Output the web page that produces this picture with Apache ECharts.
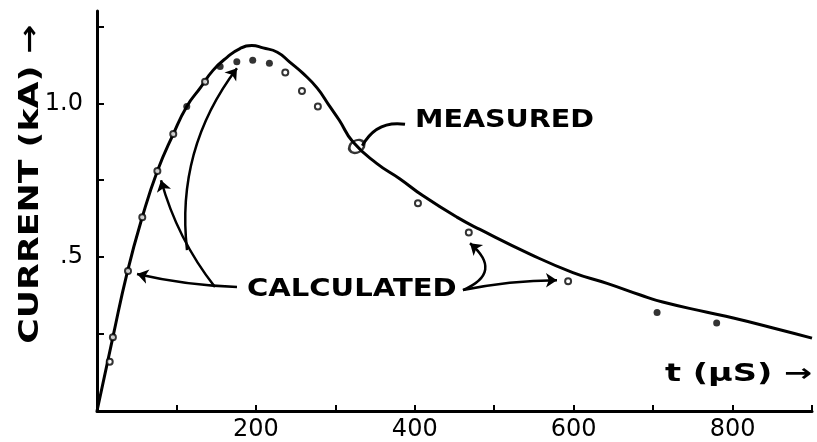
<!DOCTYPE html>
<html><head><meta charset="utf-8">
<script src="https://cdn.jsdelivr.net/npm/echarts@6/dist/echarts.min.js"></script>
<style>html,body{margin:0;padding:0;background:#fff}#c{width:817px;height:442px}</style>
</head><body><div id="c"></div>
<script>
// Measured current curve (t in microseconds, I in kA)
const measuredT = [0, 20, 38, 57, 76, 96, 113, 130, 146, 164, 180, 195, 209, 227, 243, 259, 277, 293, 305, 322, 352, 381, 410, 453, 482, 545, 599, 642, 684, 712, 768, 801, 851, 900];
const measuredI = [0, 0.24, 0.45, 0.63, 0.78, 0.90, 0.99, 1.05, 1.107, 1.15, 1.178, 1.188, 1.18, 1.166, 1.133, 1.098, 1.05, 0.99, 0.945, 0.875, 0.805, 0.755, 0.70, 0.63, 0.59, 0.51, 0.45, 0.415, 0.377, 0.354, 0.321, 0.302, 0.27, 0.237];
// Calculated points, drawn as open circles
const calcOpenT = [16, 20, 39, 57, 76, 96, 136, 237, 258, 278, 404, 468, 593];
const calcOpenI = [0.16, 0.24, 0.455, 0.63, 0.78, 0.90, 1.07, 1.10, 1.04, 0.99, 0.675, 0.58, 0.422];
// Calculated points, drawn as filled dots
const calcDotT = [113, 155, 176, 196, 217, 705, 780];
const calcDotI = [0.99, 1.12, 1.135, 1.14, 1.13, 0.32, 0.286];
// Measured marker (ellipse)
const markT = [327];
const markI = [0.86];
// Tick values / labels
const xLabelValues = [200, 400, 600, 800];
const yTickValues = [0.25, 0.5, 0.75, 1.0, 1.25];
const yLabelValues = [0.5, 1.0];
const yLabelText = {'0.5': '.5', '1': '1.0'};
// Annotation arrows (data units): from, to, curveness
const arrowFrom = [[176.2, 0.403], [148.5, 0.403], [113.3, 0.523], [460.7, 0.393], [460.7, 0.393]];
const arrowTo   = [[50.4, 0.445], [80.6, 0.75], [176.2, 1.114], [469.5, 0.545], [579, 0.425]];
const arrowCurve = [0.05, 0.1, 0.2, -0.8, 0.05];
const leaderFrom = [387.7, 0.932];
const leaderTo = [334, 0.862];

const pairs = (a, b) => a.map((v, i) => [v, b[i]]);
const FONT = 'DejaVu Sans';
const chart = echarts.init(document.getElementById('c'));
chart.setOption({
  animation: false,
  backgroundColor: '#fff',
  grid: {left: 97, right: 5, top: 11, bottom: 31},
  xAxis: {
    type: 'value', min: 0, max: 900, interval: 100,
    axisLine: {lineStyle: {color: '#000', width: 3}},
    axisTick: {inside: true, length: 6, lineStyle: {color: '#000', width: 2}},
    axisLabel: {customValues: xLabelValues, color: '#000', fontSize: 24, fontFamily: FONT, margin: 7},
    splitLine: {show: false}
  },
  yAxis: {
    type: 'value', min: 0, max: 1.3,
    axisLine: {lineStyle: {color: '#000', width: 3}},
    axisTick: {inside: true, length: 7, customValues: yTickValues, lineStyle: {color: '#000', width: 2}},
    axisLabel: {customValues: yLabelValues, color: '#000', fontSize: 24, fontFamily: FONT, margin: 14,
      formatter: v => yLabelText[String(v)] || ''},
    splitLine: {show: false}
  },
  series: [
    {type: 'line', data: pairs(measuredT, measuredI), showSymbol: false, smooth: 0.5,
     lineStyle: {color: '#000', width: 3}, z: 2},
    {type: 'scatter', data: pairs(calcOpenT, calcOpenI), symbol: 'circle', symbolSize: 6,
     itemStyle: {color: '#fff', borderColor: '#000', borderWidth: 2}, z: 4},
    {type: 'scatter', data: pairs(calcDotT, calcDotI), symbol: 'circle', symbolSize: 7,
     itemStyle: {color: '#000'}, z: 4},
    {type: 'scatter', data: pairs(markT, markI), symbol: 'circle', symbolSize: [16, 12], symbolRotate: 30,
     itemStyle: {color: 'rgba(0,0,0,0)', borderColor: '#000', borderWidth: 2.5}, z: 5},
    {type: 'lines', coordinateSystem: 'cartesian2d', symbol: ['none', 'arrow'], symbolSize: 11,
     lineStyle: {color: '#000', width: 2.5, opacity: 1},
     data: arrowFrom.map((f, i) => ({coords: [f, arrowTo[i]], lineStyle: {curveness: arrowCurve[i]}})), z: 3},
    {type: 'lines', coordinateSystem: 'cartesian2d', symbol: ['none', 'none'],
     lineStyle: {color: '#000', width: 3, opacity: 1},
     data: [{coords: [leaderFrom, leaderTo], lineStyle: {curveness: -0.35}}], z: 3}
  ],
  graphic: [
    {type: 'text', x: 415, y: 121, scaleX: 1.19, style: {text: 'MEASURED', font: 'bold 24px ' + FONT, fill: '#000', textAlign: 'left', textVerticalAlign: 'middle'}},
    {type: 'text', x: 247, y: 290, scaleX: 1.21, style: {text: 'CALCULATED', font: 'bold 24px ' + FONT, fill: '#000', textAlign: 'left', textVerticalAlign: 'middle'}},
    {type: 'text', x: 31, y: 184, rotation: Math.PI / 2, scaleX: 1.29, style: {text: 'CURRENT (kA) →', font: 'bold 27px ' + FONT, fill: '#000', textAlign: 'center', textVerticalAlign: 'middle'}},
    {type: 'text', x: 665, y: 375, scaleX: 1.4, style: {text: 't (μS) →', font: 'bold 24px ' + FONT, fill: '#000', textAlign: 'left', textVerticalAlign: 'middle'}}
  ]
});
</script></body></html>
